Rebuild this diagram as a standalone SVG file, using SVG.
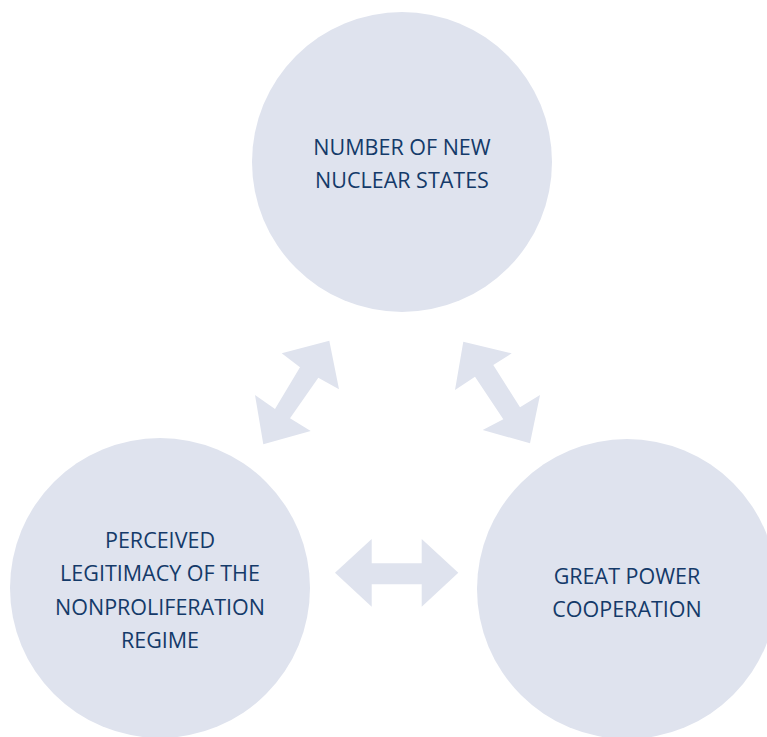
<svg xmlns="http://www.w3.org/2000/svg" width="767" height="737" viewBox="0 0 767 737">
  <style>
    .bubble { fill: #dfe3ee; }
    .link { fill: #dfe3ee; }
    .label { font-family: "Open Sans", "Noto Sans", "Liberation Sans", sans-serif; font-size: 21.5px; fill: #143a69; text-anchor: middle; }
  </style>
  <rect width="767" height="737" fill="#ffffff"/>

  <g id="connectors">
    <polygon class="link" points="329.3,340.7 339,389.3 318.3,377.7 290,418.3 310.7,431 263.3,444.3 255,395 275,409 300,367.3 281.7,353.3"/>
    <polygon class="link" points="463.3,341.7 511.7,353.3 493.3,365 520,407.3 540,395 530,443.3 482.7,430 503.3,419.3 475,376.7 455,390"/>
    <polygon class="link" points="335,572.7 371.7,539 371.7,563.3 421.7,563.3 421.7,539 458.3,572.7 421.7,606.7 421.7,584.3 371.7,584.3 371.7,606.7"/>
  </g>

  <g id="node-new-nuclear-states">
    <circle class="bubble" cx="402" cy="162" r="150"/>
    <text class="label" x="402" y="155">NUMBER OF NEW</text>
    <text class="label" x="402" y="188">NUCLEAR STATES</text>
  </g>

  <g id="node-legitimacy">
    <circle class="bubble" cx="160" cy="588" r="150"/>
    <text class="label" x="160" y="548">PERCEIVED</text>
    <text class="label" x="160" y="581">LEGITIMACY OF THE</text>
    <text class="label" x="160" y="615">NONPROLIFERATION</text>
    <text class="label" x="160" y="648">REGIME</text>
  </g>

  <g id="node-great-power">
    <circle class="bubble" cx="627" cy="589" r="150"/>
    <text class="label" x="627" y="584">GREAT POWER</text>
    <text class="label" x="627" y="617">COOPERATION</text>
  </g>
</svg>
